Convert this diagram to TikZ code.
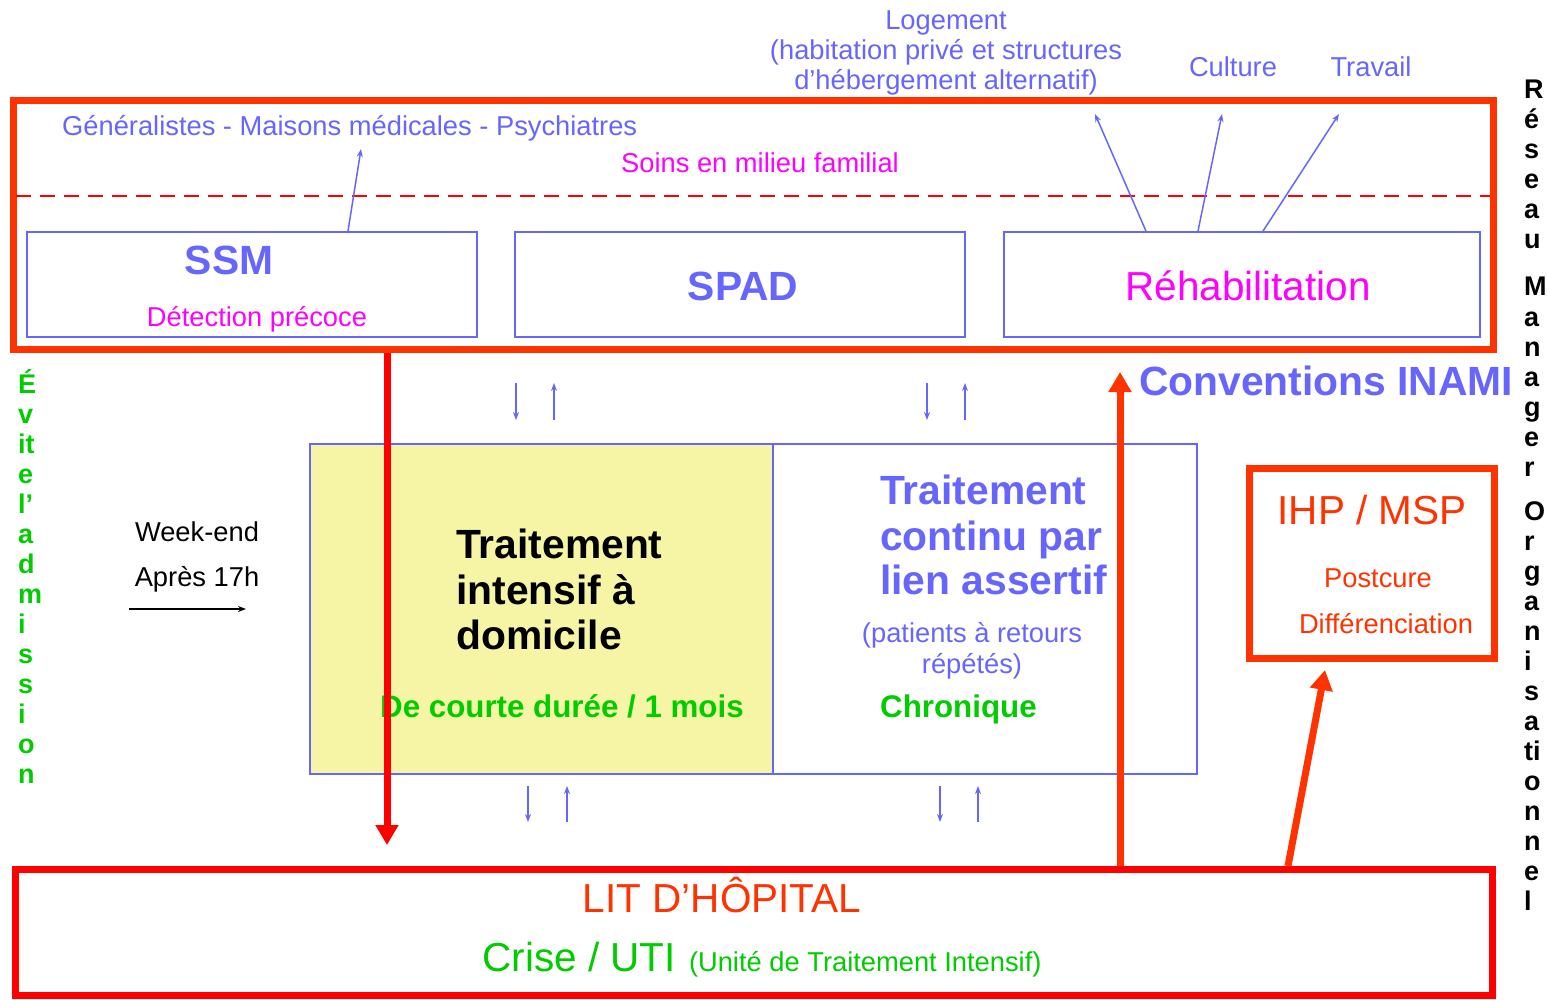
\documentclass[tikz,border=0pt]{standalone}
\usepackage{fontspec}
\setmainfont{Liberation Sans}
\usetikzlibrary{arrows.meta,calc}
\definecolor{cblue}{HTML}{6666FF}
\definecolor{cmag}{HTML}{FF00FF}
\definecolor{cgreen}{HTML}{00CC00}
\definecolor{corange}{HTML}{FF3300}
\definecolor{cred}{HTML}{FF0000}
\definecolor{cyellow}{HTML}{F5F5A5}
\newcommand{\fsz}[1]{\fontsize{#1}{#1}\selectfont}
\begin{document}
\begin{tikzpicture}[x=1pt,y=-1pt,
  s27/.style={font=\fsz{27.3}, text height=19.5pt, text depth=0pt, inner sep=0pt},
  b27/.style={font=\bfseries\fsz{27}, inner sep=0pt},
  s40/.style={font=\fsz{40.5}, text height=29pt, text depth=0pt, inner sep=0pt},
  b40/.style={font=\bfseries\fsz{40.8}, text height=29.2pt, text depth=0pt, inner sep=0pt},
  b31/.style={font=\bfseries\fsz{31.3}, text height=22.4pt, text depth=0pt, inner sep=0pt},
  bbox/.style={draw=cblue, line width=1.8pt, inner sep=0pt},
  thick box/.style={line width=7pt, inner sep=0pt},
  thin arrow/.style={draw=cblue, line width=1.5pt, -{Stealth[length=8pt,width=6pt]}},
  big arrow/.style={line width=7pt, -{Triangle[length=20pt,width=22pt]}}
]
\useasboundingbox (0,0) rectangle (1547,1000);
\fill[white] (0,0) rectangle (1547,1000);

% top frame
\node[thick box, draw=corange, minimum width=1480pt, minimum height=248pt] (top) at (753,225) {};
\coordinate (dl) at (16,196);
\coordinate (dr) at (1490,196);
\draw[cred, line width=2pt, dash pattern=on 15pt off 9pt] (dl) -- (dr);

\node[s27, text=cblue, anchor=west] (gen) at (62,126) {Généralistes - Maisons médicales - Psychiatres};
\node[s27, text=cmag] (soins) at (760,163) {Soins en milieu familial};

\node[bbox, minimum width=450pt, minimum height=105pt] (ssm) at (252,284.5) {};
\node[bbox, minimum width=450pt, minimum height=105pt] (spad) at (740,284.5) {};
\node[bbox, minimum width=476pt, minimum height=105pt] (reh) at (1242,284.5) {};
\node[b40, text=cblue] (ssmt) at (229,260) {SSM};
\node[s27, text=cmag] (det) at (257,317) {Détection précoce};
\node[b40, text=cblue] (spadt) at (743,286) {SPAD};
\node[s40, text=cmag] (reht) at (1248,286) {Réhabilitation};

% labels above
\node[s27, text=cblue] (log1) at (946,20) {Logement};
\node[s27, text=cblue] (log2) at (946,50) {(habitation privé et structures};
\node[s27, text=cblue] (log3) at (946,80) {d’hébergement alternatif)};
\node[s27, text=cblue] (cult) at (1233,67) {Culture};
\node[s27, text=cblue] (trav) at (1371,67) {Travail};

\coordinate (a0s) at (348,232); \coordinate (a0e) at (361,149);
\coordinate (a1s) at (1146,232); \coordinate (a1e) at (1095,114);
\coordinate (a2s) at (1198,232); \coordinate (a2e) at (1222,114);
\coordinate (a3s) at (1263,232); \coordinate (a3e) at (1339,114);
\draw[thin arrow] (ssm.north -| a0s) -- (a0e);
\draw[thin arrow] (reh.north -| a1s) -- (a1e);
\draw[thin arrow] (reh.north -| a2s) -- (a2e);
\draw[thin arrow] (reh.north -| a3s) -- (a3e);

% middle boxes
\node[bbox, fill=cyellow, minimum width=463pt, minimum height=330pt] (itd) at (541.5,609) {};
\node[bbox, minimum width=424pt, minimum height=330pt] (tcl) at (985,609) {};

\node[b40, anchor=west] (ti1) at (456,544) {Traitement};
\node[b40, anchor=west] (ti2) at (456,590) {intensif à};
\node[b40, anchor=west] (ti3) at (456,635) {domicile};
\node[b31, text=cgreen, anchor=west] (court) at (380,706) {De courte durée / 1 mois};

\node[b40, text=cblue, anchor=west] (tc1) at (880,490) {Traitement};
\node[b40, text=cblue, anchor=west] (tc2) at (880,536) {continu par};
\node[b40, text=cblue, anchor=west] (tc3) at (880,580) {lien assertif};
\node[s27, text=cblue] (pat1) at (972,633) {(patients à retours};
\node[s27, text=cblue] (pat2) at (972,664) {répétés)};
\node[b31, text=cgreen, anchor=west] (chron) at (880,706) {Chronique};

% small blue arrows
\coordinate (u1d) at (516,420); \coordinate (u1u) at (554,383);
\coordinate (u2d) at (927,420); \coordinate (u2u) at (965,383);
\coordinate (d1d) at (528,822); \coordinate (d1u) at (567,786);
\coordinate (d2d) at (940,822); \coordinate (d2u) at (978,786);
\draw[thin arrow] (516,383) -- (u1d);
\draw[thin arrow] (554,420) -- (u1u);
\draw[thin arrow] (927,383) -- (u2d);
\draw[thin arrow] (965,420) -- (u2u);
\draw[thin arrow] (528,786) -- (d1d);
\draw[thin arrow] (567,822) -- (d1u);
\draw[thin arrow] (940,786) -- (d2d);
\draw[thin arrow] (978,822) -- (d2u);

% week-end
\node[s27] (we) at (197,532) {Week-end};
\node[s27] (ap) at (197,577) {Après 17h};
\coordinate (we1) at (129,609); \coordinate (we2) at (246,609);
\draw[line width=1.3pt, -{Stealth[length=8pt,width=6pt]}] (we1) -- (we2);

% Conventions INAMI
\node[b40, text=cblue, anchor=west] (inami) at (1139,381) {Conventions INAMI};

% IHP / MSP
\node[thick box, draw=corange, minimum width=245pt, minimum height=190pt] (ihp) at (1372,563) {};
\node[s40, text=corange] (ihpt) at (1372,510) {IHP / MSP};
\node[s27, text=corange] (post) at (1378,578) {Postcure};
\node[s27, text=corange] (diff) at (1386,624) {Différenciation};

% bottom frame
\node[thick box, draw=cred, minimum width=1477pt, minimum height=126pt] (hop) at (753.5,932) {};
\node[s40, text=corange] (lit) at (722,898) {LIT D’HÔPITAL};
\node[inner sep=0pt, anchor=base, text=cgreen] (crise) at (762,971) {{\fsz{40.5}Crise / UTI}\hspace{13pt}{\fsz{27.3}(Unité de Traitement Intensif)}};

% big arrows
\coordinate (dn) at (387,845);
\draw[big arrow, cred] (top.south -| dn) -- (dn);
\coordinate (up) at (1120,372);
\draw[big arrow, corange] (hop.north -| up) -- (up);
\coordinate (ihps) at (1288,866);
\coordinate (ihpe) at (1325,670);
\draw[big arrow, corange] (ihps) -- (ihpe);

% vertical texts
\foreach \l [count=\k from 0] in {É,v,it,e,l’,a,d,m,i,s,s,i,o,n}
  \node[b27, text=cgreen, anchor=base west] (ev\k) at (18,393+30*\k) {\l};
\foreach \l [count=\k from 0] in {R,é,s,e,a,u}
  \node[b27, anchor=base west] (rw\k) at (1524,99+30*\k) {\l};
\foreach \l [count=\k from 0] in {M,a,n,a,g,e,r}
  \node[b27, anchor=base west] (mw\k) at (1524,296+30*\k) {\l};
\foreach \l [count=\k from 0] in {O,r,g,a,n,i,s,a,ti,o,n,n,e,l}
  \node[b27, anchor=base west] (ow\k) at (1524,520+30*\k) {\l};
\end{tikzpicture}
\end{document}
